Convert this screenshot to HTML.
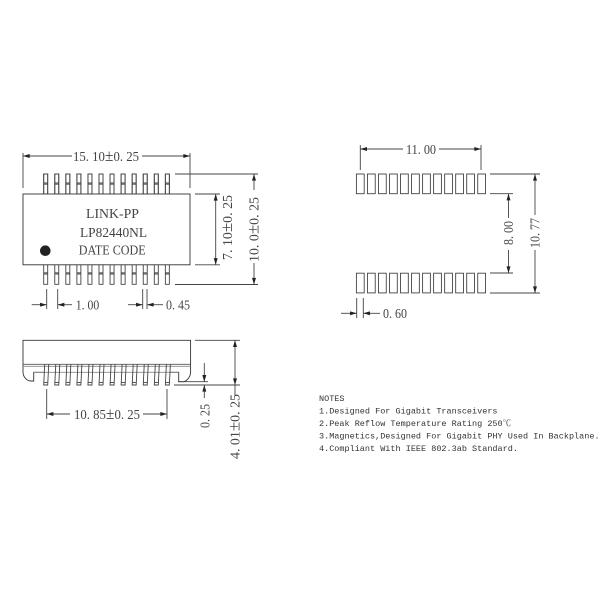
<!DOCTYPE html>
<html><head><meta charset="utf-8"><style>
html,body{margin:0;padding:0;background:#fff}
svg{display:block;filter:blur(0.3px)}
text{font-family:"Liberation Serif","Noto Serif CJK SC",serif;fill:#444;font-size:14px}
.n{font-family:"Liberation Mono","Noto Serif CJK SC",monospace;font-size:8.5px;fill:#333}
.p{font-size:17px}
</style></head><body>
<svg width="600" height="600" viewBox="0 0 600 600" xmlns="http://www.w3.org/2000/svg">
<defs>
<g id="pt"><rect x="0" y="0" width="4" height="20" fill="#fff"/><path d="M0 20V0H4V20M0 9H4M0 10.2H4"/></g>
<g id="pb"><path d="M0 0V19.5H4V0M0 8H4M0 9.2H4"/></g>
<g id="ps"><path d="M1 -1.5L0 19H4L5 -1.5"/><path d="M0.1 16.5H4.1"/></g>
<rect id="pad" x="0" y="0" width="7.8" height="19.7"/>
<g id="padrow">
<use href="#pad" x="0"/><use href="#pad" x="11.03"/><use href="#pad" x="22.06"/><use href="#pad" x="33.09"/><use href="#pad" x="44.12"/><use href="#pad" x="55.15"/><use href="#pad" x="66.18"/><use href="#pad" x="77.21"/><use href="#pad" x="88.24"/><use href="#pad" x="99.27"/><use href="#pad" x="110.3"/><use href="#pad" x="121.33"/>
</g>
<g id="tr"><use href="#pt" x="0"/><use href="#pt" x="11.06"/><use href="#pt" x="22.12"/><use href="#pt" x="33.18"/><use href="#pt" x="44.24"/><use href="#pt" x="55.3"/><use href="#pt" x="66.36"/><use href="#pt" x="77.42"/><use href="#pt" x="88.48"/><use href="#pt" x="99.54"/><use href="#pt" x="110.6"/><use href="#pt" x="121.66"/></g>
<g id="br"><use href="#pb" x="0"/><use href="#pb" x="11.06"/><use href="#pb" x="22.12"/><use href="#pb" x="33.18"/><use href="#pb" x="44.24"/><use href="#pb" x="55.3"/><use href="#pb" x="66.36"/><use href="#pb" x="77.42"/><use href="#pb" x="88.48"/><use href="#pb" x="99.54"/><use href="#pb" x="110.6"/><use href="#pb" x="121.66"/></g>
<g id="sr"><use href="#ps" x="0"/><use href="#ps" x="11.06"/><use href="#ps" x="22.12"/><use href="#ps" x="33.18"/><use href="#ps" x="44.24"/><use href="#ps" x="55.3"/><use href="#ps" x="66.36"/><use href="#ps" x="77.42"/><use href="#ps" x="88.48"/><use href="#ps" x="99.54"/><use href="#ps" x="110.6"/><use href="#ps" x="121.66"/></g>
<marker id="a" viewBox="0 0 10 6" refX="10" refY="3" markerWidth="7" markerHeight="4" markerUnits="userSpaceOnUse" orient="auto"><path d="M0 0L10 3L0 6Z" fill="#222"/></marker>
</defs>

<g fill="none" stroke="#444" stroke-width="0.9">
<!-- top view -->
<use href="#tr" x="43.7" y="174"/>
<use href="#br" x="43.7" y="264.8"/>
<rect x="23" y="194" width="167" height="70.8" fill="#fff" stroke="#333"/>
<path d="M23 153V188M190 153V188"/>
<path d="M72 156H23" marker-end="url(#a)"/>
<path d="M142 156H190" marker-end="url(#a)"/>
<path d="M175 174H258M175 284.5H258M195 194H220M195 264.8H220"/>
<path d="M215.7 228V194" marker-end="url(#a)"/><path d="M215.7 228V264.8" marker-end="url(#a)"/>
<path d="M254 190V174" marker-end="url(#a)"/><path d="M254 263V284.5" marker-end="url(#a)"/>
<path d="M46.7 289V309M57.7 289V309M142.7 289V309M147 289V309"/>
<path d="M31.7 304.7H46.7" marker-end="url(#a)"/><path d="M72 304.7H57.7" marker-end="url(#a)"/>
<path d="M128 304.7H142.7" marker-end="url(#a)"/><path d="M163 304.7H147" marker-end="url(#a)"/>

<!-- side view -->
<path d="M43.7 372.3H33.7V381H31C26 381 23 376 23 372V340.3H190.6V372C190.6 376 188 380 184 381.7H178.7V372.3H170" stroke="#333"/>
<path d="M23 364.3H190.6" stroke="#555"/><path d="M23 366.3H190.6" stroke="#888"/>
<path d="M33.7 372.3H178.7" stroke="#888"/>
<use href="#sr" x="43.7" y="366"/>
<path d="M195 340.3H240M178 381.7H208M174 385H240"/>
<path d="M204.3 363V381.7" marker-end="url(#a)"/><path d="M204.3 398V385" marker-end="url(#a)"/>
<path d="M235 362V340.3" marker-end="url(#a)"/><path d="M235 362V385" marker-end="url(#a)"/><path d="M235 385V396"/>
<path d="M46.7 389V419M167 389V419"/>
<path d="M70 414H46.7" marker-end="url(#a)"/><path d="M143 414H167" marker-end="url(#a)"/>

<!-- land pattern -->
<use href="#padrow" x="356.4" y="174"/>
<use href="#padrow" x="356.4" y="273.2"/>
<path d="M360.3 145V170M481 145V170"/>
<path d="M403 149H360.3" marker-end="url(#a)"/><path d="M439 149H481" marker-end="url(#a)"/>
<path d="M490 174H540M490 193.7H513M490 273H513M490 293H540"/>
<path d="M508.5 218V193.7" marker-end="url(#a)"/><path d="M508.5 250V273" marker-end="url(#a)"/>
<path d="M535 215V174" marker-end="url(#a)"/><path d="M535 250V293" marker-end="url(#a)"/>
<path d="M356.7 298V318M363.3 298V318"/>
<path d="M341 313.3H356.7" marker-end="url(#a)"/><path d="M380 313.3H363.3" marker-end="url(#a)"/>
</g>

<circle cx="45.3" cy="250.7" r="5.3" fill="#222"/>

<text x="73" y="161" textLength="66" lengthAdjust="spacingAndGlyphs">15. 10<tspan class="p">±</tspan>0. 25</text>
<text x="86" y="218" textLength="53" lengthAdjust="spacingAndGlyphs">LINK-PP</text>
<text x="80" y="237" textLength="67" lengthAdjust="spacingAndGlyphs">LP82440NL</text>
<text x="78.7" y="254.5" textLength="67" lengthAdjust="spacingAndGlyphs">DATE CODE</text>
<text x="75.7" y="309.5" textLength="23.5" lengthAdjust="spacingAndGlyphs">1. 00</text>
<text x="166" y="309.5" textLength="24" lengthAdjust="spacingAndGlyphs">0. 45</text>
<text transform="translate(232 260) rotate(-90)" textLength="65" lengthAdjust="spacingAndGlyphs">7. 10<tspan class="p">±</tspan>0. 25</text>
<text transform="translate(258.5 262) rotate(-90)" textLength="65" lengthAdjust="spacingAndGlyphs">10. 0<tspan class="p">±</tspan>0. 25</text>
<text x="74" y="419" textLength="66" lengthAdjust="spacingAndGlyphs">10. 85<tspan class="p">±</tspan>0. 25</text>
<text transform="translate(209.5 428) rotate(-90)" textLength="24" lengthAdjust="spacingAndGlyphs">0. 25</text>
<text transform="translate(239.5 459) rotate(-90)" textLength="65" lengthAdjust="spacingAndGlyphs">4. 01<tspan class="p">±</tspan>0. 25</text>
<text x="406" y="154" textLength="30" lengthAdjust="spacingAndGlyphs">11. 00</text>
<text transform="translate(513 245) rotate(-90)" textLength="24" lengthAdjust="spacingAndGlyphs">8. 00</text>
<text transform="translate(539.5 248) rotate(-90)" textLength="30" lengthAdjust="spacingAndGlyphs">10. 77</text>
<text x="383" y="318" textLength="24" lengthAdjust="spacingAndGlyphs">0. 60</text>

<text class="n" x="319" y="401">NOTES</text>
<text class="n" x="319" y="413.5">1.Designed For Gigabit Transceivers</text>
<text class="n" x="319" y="426">2.Peak Reflow Temperature Rating 250℃</text>
<text class="n" x="319" y="438.5">3.Magnetics,Designed For Gigabit PHY Used In Backplane.</text>
<text class="n" x="319" y="451">4.Compliant With IEEE 802.3ab Standard.</text>
</svg>
</body></html>
